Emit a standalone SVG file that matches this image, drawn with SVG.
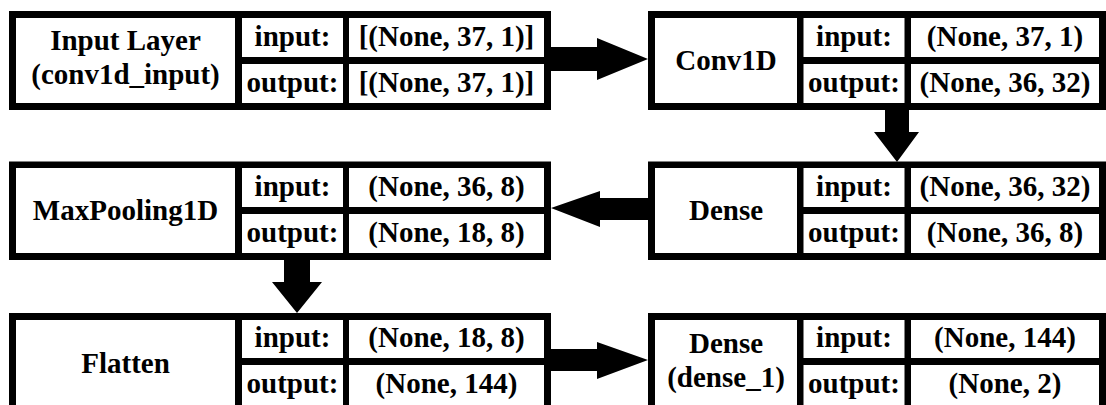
<svg xmlns="http://www.w3.org/2000/svg" width="1106" height="405" viewBox="0 0 1106 405">
<style>
.frame{fill:#000}
.cell{fill:#fff}
text{font-weight:bold;font-size:29px;fill:#000;text-anchor:middle}
.conn{fill:#000}
</style>
<rect width="1106" height="405" fill="#fff"/>
<g font-family="Liberation Serif, serif">
<g id="node-input">
<rect class="frame" x="9" y="11" width="542" height="99"/>
<rect class="cell" x="16" y="18" width="219" height="85"/>
<rect class="cell" x="242" y="18" width="101" height="39"/>
<rect class="cell" x="349" y="18" width="195" height="39"/>
<rect class="cell" x="242" y="64" width="101" height="39"/>
<rect class="cell" x="349" y="64" width="195" height="39"/>
<text x="125.5" y="50">Input Layer</text>
<text x="125.5" y="84">(conv1d_input)</text>
<text x="292.5" y="46">input:</text>
<text x="446.5" y="46">[(None, 37, 1)]</text>
<text x="292.5" y="92">output:</text>
<text x="446.5" y="92">[(None, 37, 1)]</text>
</g>
<g id="node-conv1d">
<rect class="frame" x="648" y="11" width="458" height="99"/>
<rect class="cell" x="655" y="18" width="142" height="85"/>
<rect class="cell" x="803.5" y="18" width="101" height="39"/>
<rect class="cell" x="911" y="18" width="188" height="39"/>
<rect class="cell" x="803.5" y="64" width="101" height="39"/>
<rect class="cell" x="911" y="64" width="188" height="39"/>
<text x="726" y="70">Conv1D</text>
<text x="854" y="46">input:</text>
<text x="1005" y="46">(None, 37, 1)</text>
<text x="854" y="92">output:</text>
<text x="1005" y="92">(None, 36, 32)</text>
</g>
<g id="node-maxpooling">
<rect class="frame" x="9" y="161.5" width="542" height="98.5"/>
<rect class="cell" x="16" y="168" width="219" height="85"/>
<rect class="cell" x="242" y="168" width="101" height="39"/>
<rect class="cell" x="349" y="168" width="195" height="39"/>
<rect class="cell" x="242" y="214" width="101" height="39"/>
<rect class="cell" x="349" y="214" width="195" height="39"/>
<text x="125.5" y="220">MaxPooling1D</text>
<text x="292.5" y="196">input:</text>
<text x="446.5" y="196">(None, 36, 8)</text>
<text x="292.5" y="242">output:</text>
<text x="446.5" y="242">(None, 18, 8)</text>
</g>
<g id="node-dense">
<rect class="frame" x="648" y="161.5" width="458" height="98.5"/>
<rect class="cell" x="655" y="168" width="142" height="85"/>
<rect class="cell" x="803.5" y="168" width="101" height="39"/>
<rect class="cell" x="911" y="168" width="188" height="39"/>
<rect class="cell" x="803.5" y="214" width="101" height="39"/>
<rect class="cell" x="911" y="214" width="188" height="39"/>
<text x="726" y="220">Dense</text>
<text x="854" y="196">input:</text>
<text x="1005" y="196">(None, 36, 32)</text>
<text x="854" y="242">output:</text>
<text x="1005" y="242">(None, 36, 8)</text>
</g>
<g id="node-flatten">
<rect class="frame" x="9" y="313" width="542" height="99"/>
<rect class="cell" x="16" y="320" width="219" height="85"/>
<rect class="cell" x="242" y="320" width="101" height="38"/>
<rect class="cell" x="349" y="320" width="195" height="38"/>
<rect class="cell" x="242" y="365" width="101" height="40"/>
<rect class="cell" x="349" y="365" width="195" height="40"/>
<text x="125.5" y="373">Flatten</text>
<text x="292.5" y="347">input:</text>
<text x="446.5" y="347">(None, 18, 8)</text>
<text x="292.5" y="393">output:</text>
<text x="446.5" y="393">(None, 144)</text>
</g>
<g id="node-dense1">
<rect class="frame" x="648" y="313" width="458" height="99"/>
<rect class="cell" x="655" y="320" width="142" height="85"/>
<rect class="cell" x="803.5" y="320" width="101" height="38"/>
<rect class="cell" x="911" y="320" width="188" height="38"/>
<rect class="cell" x="803.5" y="365" width="101" height="40"/>
<rect class="cell" x="911" y="365" width="188" height="40"/>
<text x="726" y="353">Dense</text>
<text x="726" y="387">(dense_1)</text>
<text x="854" y="347">input:</text>
<text x="1005" y="347">(None, 144)</text>
<text x="854" y="393">output:</text>
<text x="1005" y="393">(None, 2)</text>
</g>
</g>
<g id="connectors">
<polygon class="conn" points="551,47 597,47 597,38 648,59 597,80 597,71 551,71"/>
<polygon class="conn" points="885,110 909,110 909,132 919,132 897,162 874,132 885,132"/>
<polygon class="conn" points="648,198 600,198 600,191 551,208 600,227 600,220 648,220"/>
<polygon class="conn" points="284,260 310,260 310,282 322,282 297,313 272,282 284,282"/>
<polygon class="conn" points="551,349 597,349 597,342 648,360 597,379 597,371 551,371"/>
</g>
</svg>
